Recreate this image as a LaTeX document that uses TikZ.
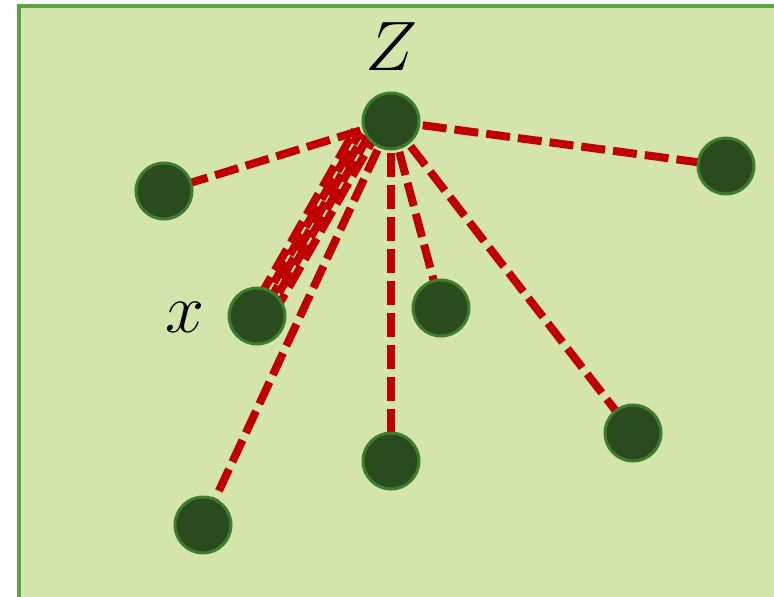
\RequirePackage{fix-cm}
\documentclass[tikz,border=0pt]{standalone}
\definecolor{bgc}{HTML}{D4E5AC}
\definecolor{bdc}{HTML}{5AA33E}
\definecolor{ndf}{HTML}{2A4B1D}
\definecolor{ndd}{HTML}{3E7D2E}
\definecolor{edc}{HTML}{C00000}
\begin{document}
\begin{tikzpicture}[x=1pt,y=-1pt,
  dot/.style={circle,fill=ndf,draw=ndd,line width=3pt,minimum size=56pt,inner sep=0pt},
  link/.style={draw=edc,line width=8pt,dash pattern=on 24pt off 8pt},
  lbl/.style={inner sep=0pt,font=\fontsize{70}{84}\selectfont}]
\useasboundingbox (0,0) rectangle (774,597);
\clip (0,0) rectangle (774,597);
\draw[fill=bgc,draw=bdc,line width=4pt] (19,6) rectangle (790,610);
% node positions
\coordinate (pz) at (391,121);
\coordinate (pa) at (164,191);
\coordinate (px) at (257,316);
\coordinate (pb) at (441,308);
\coordinate (pc) at (726,166);
\coordinate (pd) at (633,433);
\coordinate (pe) at (391,461);
\coordinate (pf) at (203,525);
% bundle end points
\coordinate (b1s) at (259,298); \coordinate (b1e) at (355,130);
\coordinate (b2s) at (264,300); \coordinate (b2e) at (360,132);
\coordinate (b3s) at (268,303); \coordinate (b3e) at (364,135);
\coordinate (b4s) at (272,305); \coordinate (b4e) at (368,137);
\coordinate (b5s) at (277,308); \coordinate (b5e) at (373,140);
% edges
\draw[link] (pz) -- (pa);
\draw[link] (pz) -- (pc);
\draw[link] (pz) -- (pb);
\draw[link] (pz) -- (pd);
\draw[link] (pz) -- (pe);
\draw[link] (pz) -- (pf);
\draw[link] (b1s) -- (b1e);
\draw[link,dash phase=12pt] (b2s) -- (b2e);
\draw[link,dash phase=4pt] (b3s) -- (b3e);
\draw[link,dash phase=18pt] (b4s) -- (b4e);
\draw[link,dash phase=8pt] (b5s) -- (b5e);
% nodes
\node[dot] (z) at (pz) {};
\node[dot] (a) at (pa) {};
\node[dot] (x) at (px) {};
\node[dot] (b) at (pb) {};
\node[dot] (c) at (pc) {};
\node[dot] (d) at (pd) {};
\node[dot] (e) at (pe) {};
\node[dot] (f) at (pf) {};
\node[lbl] (zl) at (391,47) {$Z$};
\node[lbl] (xl) at (185,317) {$x$};
\end{tikzpicture}
\end{document}
